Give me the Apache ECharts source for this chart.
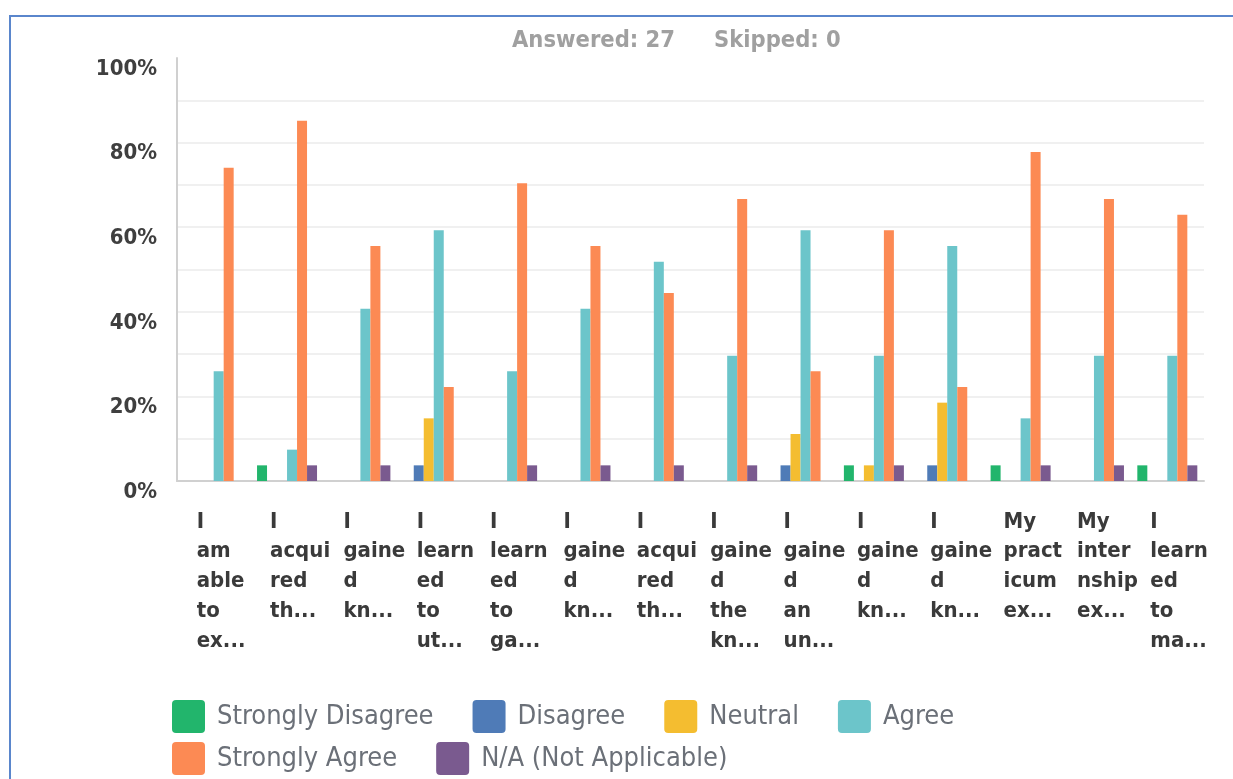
<!DOCTYPE html>
<html>
<head>
<meta charset="utf-8">
<script src="https://cdn.jsdelivr.net/npm/echarts@6/dist/echarts.min.js"></script>
<style>
  html, body { margin: 0; padding: 0; background: #ffffff; }
  #frame { position: absolute; left: 9px; top: 15px; width: 1240px; height: 800px; border: 2px solid #5a86cc; box-sizing: border-box; }
  #chart { position: absolute; left: 0; top: 0; width: 1233px; height: 779px; }
</style>
</head>
<body>
<div id="frame"></div>
<div id="chart"></div>
<script>
// Category labels as displayed (truncated in the original)
const categories = [
  "I\nam\nable\nto\nex...",
  "I\nacqui\nred\nth...",
  "I\ngaine\nd\nkn...",
  "I\nlearn\ned\nto\nut...",
  "I\nlearn\ned\nto\nga...",
  "I\ngaine\nd\nkn...",
  "I\nacqui\nred\nth...",
  "I\ngaine\nd\nthe\nkn...",
  "I\ngaine\nd\nan\nun...",
  "I\ngaine\nd\nkn...",
  "I\ngaine\nd\nkn...",
  "My\npract\nicum\nex...",
  "My\ninter\nnship\nex...",
  "I\nlearn\ned\nto\nma..."
];

const seriesNames = ["Strongly Disagree", "Disagree", "Neutral", "Agree", "Strongly Agree", "N/A (Not Applicable)"];

// Percent of 27 respondents
const stronglyDisagree = [0, 3.70, 0, 0, 0, 0, 0, 0, 0, 3.70, 0, 3.70, 0, 3.70];
const disagree         = [0, 0, 0, 3.70, 0, 0, 0, 0, 3.70, 0, 3.70, 0, 0, 0];
const neutral          = [0, 0, 0, 14.81, 0, 0, 0, 0, 11.11, 3.70, 18.52, 0, 0, 0];
const agree            = [25.93, 7.41, 40.74, 59.26, 25.93, 40.74, 51.85, 29.63, 59.26, 29.63, 55.56, 14.81, 29.63, 29.63];
const stronglyAgree    = [74.07, 85.19, 55.56, 22.22, 70.37, 55.56, 44.44, 66.67, 25.93, 59.26, 22.22, 77.78, 66.67, 62.96];
const notApplicable    = [0, 3.70, 3.70, 0, 3.70, 3.70, 3.70, 3.70, 0, 3.70, 0, 3.70, 3.70, 3.70];

const yTicks = [0, 20, 40, 60, 80, 100];

const colors = ["#22b56c", "#4f7bb7", "#f4bd30", "#6cc5ca", "#fc8a54", "#7a5a8f"];
const seriesData = [stronglyDisagree, disagree, neutral, agree, stronglyAgree, notApplicable];

const chart = echarts.init(document.getElementById('chart'), null, { renderer: 'canvas' });

const condensed = "'DejaVu Sans Condensed', 'DejaVu Sans', sans-serif";

const legendCommon = {
  left: 172,
  padding: 0,
  orient: 'horizontal',
  icon: 'path://M4,0H29A4,4 0 0 1 33,4V29A4,4 0 0 1 29,33H4A4,4 0 0 1 0,29V4A4,4 0 0 1 4,0Z',
  itemWidth: 33,
  itemHeight: 33,
  itemGap: 39,
  textStyle: { fontFamily: condensed, fontSize: 27, color: '#6b7078', padding: [0, 0, 0, 7] },
  selectedMode: false
};

chart.setOption({
  animation: false,
  color: colors,
  title: {
    text: '{a|Answered: 27}{b|Skipped: 0}',
    left: 512,
    top: 29,
    padding: 0,
    textStyle: {
      rich: {
        a: { fontFamily: condensed, fontSize: 23.5, fontWeight: 'bold', color: '#a0a0a0' },
        b: { fontFamily: condensed, fontSize: 23.5, fontWeight: 'bold', color: '#a0a0a0', padding: [0, 0, 0, 39] }
      }
    }
  },
  legend: [
    Object.assign({}, legendCommon, { top: 700, data: seriesNames.slice(0, 4) }),
    Object.assign({}, legendCommon, { top: 742, data: seriesNames.slice(4) })
  ],
  grid: { left: 177, right: 29, top: 58, bottom: 298, containLabel: false },
  xAxis: {
    type: 'category',
    data: categories,
    axisTick: { show: false },
    axisLine: { show: true, lineStyle: { color: '#d0d0d0', width: 2 } },
    axisLabel: {
      interval: 0,
      margin: 26,
      align: 'center',
      formatter: function (v) {
        return v.split('\n').map(function (l) { return '{a|' + l + '}'; }).join('\n');
      },
      rich: {
        a: {
          width: 34,
          align: 'left',
          fontFamily: condensed,
          fontSize: 22,
          fontWeight: 'bold',
          lineHeight: 29.8,
          color: '#3a3a3a'
        }
      }
    }
  },
  yAxis: {
    type: 'value',
    min: 0,
    max: 100,
    interval: 10,
    axisLine: { show: true, lineStyle: { color: '#d0d0d0', width: 2 } },
    axisTick: { show: false },
    splitLine: { show: true, showMaxLine: false, lineStyle: { color: '#ebebeb', width: 1.5 } },
    axisLabel: {
      margin: 20,
      verticalAlign: 'top',
      fontFamily: condensed,
      fontSize: 22,
      fontWeight: 'bold',
      color: '#3f3f3f',
      formatter: function (v) { return yTicks.indexOf(v) >= 0 ? v + '%' : ''; }
    }
  },
  series: seriesNames.map(function (name, i) {
    return {
      name: name,
      type: 'bar',
      data: seriesData[i],
      barWidth: 10,
      barGap: '0%',
      itemStyle: { color: colors[i] }
    };
  })
});
</script>
</body>
</html>
